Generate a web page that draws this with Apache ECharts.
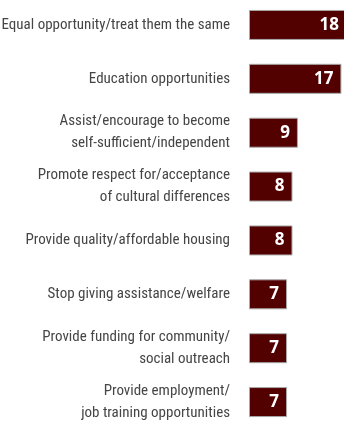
<!DOCTYPE html>
<html>
<head>
<meta charset="utf-8">
<script src="https://cdn.jsdelivr.net/npm/echarts@6/dist/echarts.min.js"></script>
<style>
  html, body { margin: 0; padding: 0; background: #fff; }
  #chart { width: 344px; height: 423px; }
</style>
</head>
<body>
<div id="chart"></div>
<script>
// categories, top to bottom
var categories = [
  'Equal opportunity/treat them the same',
  'Education opportunities',
  'Assist/encourage to become\nself-sufficient/independent',
  'Promote respect for/acceptance\nof cultural differences',
  'Provide quality/affordable housing',
  'Stop giving assistance/welfare',
  'Provide funding for community/\nsocial outreach',
  'Provide employment/\njob training opportunities'
];
var values = [18, 17, 9, 8, 8, 7, 7, 7];

var chart = echarts.init(document.getElementById('chart'));

var option = {
  animation: false,
  grid: {
    left: 249,
    width: 106,
    top: -2,
    bottom: -6,
    containLabel: false,
    outerBoundsMode: 'none'
  },
  xAxis: {
    type: 'value',
    min: 0,
    max: 19.5,
    show: false
  },
  yAxis: {
    type: 'category',
    inverse: true,
    data: categories,
    axisLine: { show: false },
    axisTick: { show: false },
    splitLine: { show: false },
    axisLabel: {
      margin: 19,
      color: '#454545',
      fontFamily: 'Roboto Condensed',
      fontSize: 15,
      lineHeight: 22,
      align: 'right',
      hideOverlap: false
    }
  },
  series: [
    {
      type: 'bar',
      data: values,
      barWidth: 30,
      clip: false,
      itemStyle: {
        color: '#520000',
        borderColor: '#a8a8a8',
        borderWidth: 1
      },
      label: {
        show: true,
        position: 'insideRight',
        distance: 8,
        color: '#fff',
        fontFamily: 'Open Sans',
        fontWeight: 'bold',
        fontSize: 17
      }
    }
  ]
};

chart.setOption(option);
</script>
</body>
</html>
